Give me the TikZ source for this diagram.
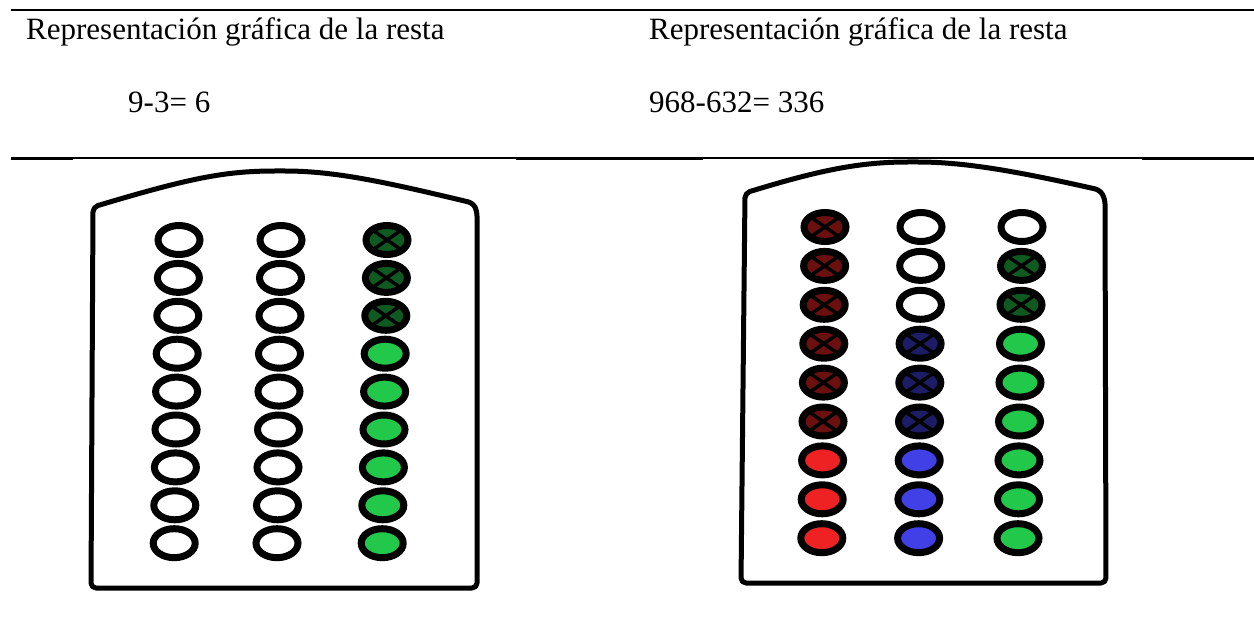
\documentclass[tikz,border=0pt]{standalone}
\usepackage{fontspec}
\setmainfont{Liberation Serif}
\usetikzlibrary{shapes.geometric}
\definecolor{bead-green}{HTML}{22C84A}
\definecolor{bead-red}{HTML}{EE2222}
\definecolor{bead-blue}{HTML}{4040E6}
\tikzset{
    heading/.style = {anchor=base west, inner sep=0pt, font=\fontsize{31}{37}\selectfont},
    bead/.style = {ellipse, draw, fill=white, line width=7pt, minimum width=42pt, minimum height=29pt, inner sep=0pt},
    full/.style = {bead, fill=#1},
    crossed/.style = {bead, fill=#1!45!black,
        path picture={\draw[black, line width=3.5pt]
            (path picture bounding box.south west) -- (path picture bounding box.north east)
            (path picture bounding box.north west) -- (path picture bounding box.south east);}},
    frame/.style = {line width=5pt, line join=round, rounded corners=5pt}
}
\begin{document}
\begin{tikzpicture}[x=1pt, y=-1pt]
      \useasboundingbox (0,0) rectangle (1254,639);

      % table rules
      \coordinate (top-l) at (11,10);
      \coordinate (top-r) at (1254,10);
      \coordinate (mid-l) at (11,158);
      \coordinate (mid-r) at (1254,158);
      \draw[line width=2pt] (top-l) -- (top-r);
      \draw[line width=1.2pt] (mid-l) -- (mid-r);
      \draw[line width=2.4pt] (11,158.6) -- (73,158.6) (516,158.6) -- (703,158.6) (1142,158.6) -- (1254,158.6);

      \node[heading] (title-a) at (26,40) {Representación gráfica de la resta};
      \node[heading] (title-b) at (649,40) {Representación gráfica de la resta};
      \node[heading] (sum-a) at (128,113) {9-3= 6};
      \node[heading] (sum-b) at (649,113) {968-632= 336};

      % left abacus: 9-3
      \draw[frame] (91,588) -- (93,207) .. controls (190,178) and (225,171) .. (280,171)
          .. controls (335,171) and (385,182) .. (473,203) -- (477,211) -- (477,588) -- cycle;
      \foreach \r in {0,...,8} {
        \node[bead] (a1-\r) at (179-0.6*\r, 240+37.9*\r) {};
        \node[bead] (a2-\r) at (281-0.5*\r, 240+37.9*\r) {};
      }
      \foreach \r in {0,1,2}
        \node[crossed=bead-green] (a3-\r) at (387-0.6*\r, 240+37.9*\r) {};
      \foreach \r in {3,...,8}
        \node[full=bead-green] (a3-\r) at (387-0.6*\r, 240+37.9*\r) {};

      % right abacus: 968-632
      \draw[frame] (741,583) -- (745,193) .. controls (820,170) and (860,162) .. (913,162)
          .. controls (966,162) and (1020,172) .. (1100,190) -- (1105,199) -- (1106,583) -- cycle;
      \foreach \r in {0,...,5}
        \node[crossed=bead-red] (b1-\r) at (825-0.4*\r, 227+38.9*\r) {};
      \foreach \r in {6,7,8}
        \node[full=bead-red] (b1-\r) at (825-0.4*\r, 227+38.9*\r) {};
      \foreach \r in {0,1,2}
        \node[bead] (b2-\r) at (921-0.3*\r, 227+38.9*\r) {};
      \foreach \r in {3,4,5}
        \node[crossed=bead-blue] (b2-\r) at (921-0.3*\r, 227+38.9*\r) {};
      \foreach \r in {6,7,8}
        \node[full=bead-blue] (b2-\r) at (921-0.3*\r, 227+38.9*\r) {};
      \node[bead] (b3-0) at (1022,227) {};
      \foreach \r in {1,2}
        \node[crossed=bead-green] (b3-\r) at (1022-0.5*\r, 227+38.9*\r) {};
      \foreach \r in {3,...,8}
        \node[full=bead-green] (b3-\r) at (1022-0.5*\r, 227+38.9*\r) {};
\end{tikzpicture}
\end{document}
